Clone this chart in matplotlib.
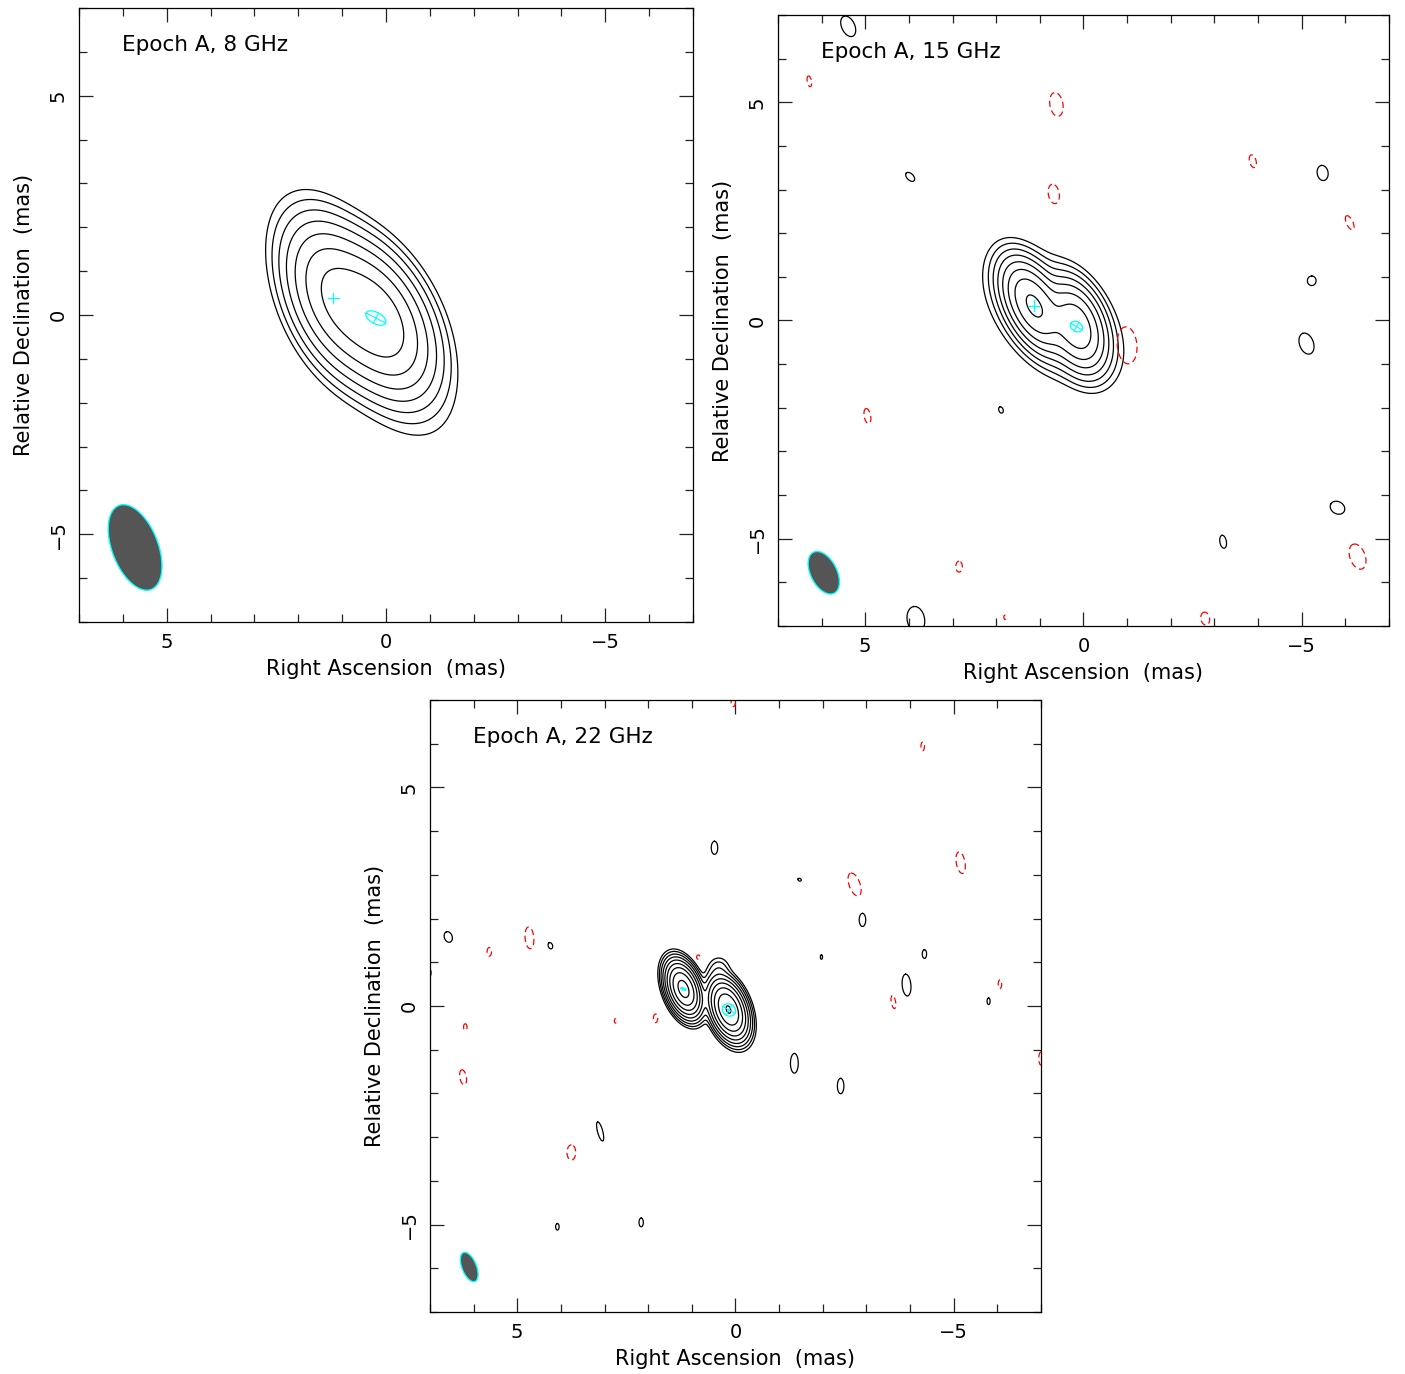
import numpy as np
import matplotlib
matplotlib.use("Agg")
from matplotlib import pyplot as plt
from matplotlib.ticker import MultipleLocator

# ---- model components (flux, RA offset, Dec offset, FWHM maj, FWHM min, PA) in mas ----
# 8 GHz
c8_flux = [1.0, 0.6, 0.05]
c8_ra = [0.2, 1.15, 0.5]
c8_dec = [-0.1, 0.4, -0.1]
c8_maj = [2.0, 2.0, 3.5]
c8_min = [1.15, 1.1, 1.4]
c8_pa = [28, 22, 32]

# 15 GHz
c15_flux = [1.0, 0.75, 0.05]
c15_ra = [1.14, 0.16, 0.7]
c15_dec = [0.34, -0.14, 0.1]
c15_maj = [1.2, 1.15, 2.2]
c15_min = [0.62, 0.66, 1.3]
c15_pa = [27, 20, 45]

# 22 GHz
c22_flux = [1.0, 0.8, 0.008]
c22_ra = [1.19, 0.16, 0.38]
c22_dec = [0.39, -0.08, 0.85]
c22_maj = [0.66, 0.72, 0.4]
c22_min = [0.36, 0.4, 0.35]
c22_pa = [20, 20, 0]

# lowest contour (fraction of peak) and number of contours
lev8 = [0.008, 7]
lev15 = [0.0068, 8]
lev22 = [0.003, 9]

# restoring beams: RA, Dec, maj, min, PA
beam8 = [5.72, -5.3, 2.05, 1.05, 21]
beam15 = [5.95, -5.78, 1.05, 0.6, 27]
beam22 = [6.1, -5.97, 0.71, 0.33, 22]

# model-fit components drawn in cyan
# points (plus marks): RA, Dec
pts8 = [[1.2, 0.39]]
pts15 = [[1.14, 0.34]]
pts22 = []
# ellipses: RA, Dec, maj, min, PA
ell8 = [[0.23, -0.07, 0.5, 0.26, 62]]
ell15 = [[0.16, -0.14, 0.3, 0.22, 60]]
ell22 = [[1.19, 0.39, 0.12, 0.04, 70], [0.15, -0.09, 0.32, 0.27, 60]]

# isolated noise islands: RA, Dec, maj, min, PA
pos15 = [[5.39, 6.74, 0.5, 0.3, 25], [3.97, 3.29, 0.25, 0.15, 45],
         [-5.48, 3.38, 0.35, 0.25, 10], [-5.23, 0.91, 0.22, 0.2, 0],
         [-5.11, -0.53, 0.5, 0.32, 20], [1.89, -2.05, 0.15, 0.1, 20],
         [-5.82, -4.29, 0.35, 0.28, 60], [-3.2, -5.07, 0.3, 0.15, 10],
         [3.84, -6.85, 0.6, 0.4, 10]]
neg15 = [[6.28, 5.48, 0.25, 0.1, 10], [0.62, 4.95, 0.55, 0.3, 10],
         [0.68, 2.9, 0.45, 0.25, 10], [-3.88, 3.65, 0.3, 0.15, 15],
         [-6.1, 2.24, 0.35, 0.15, 25], [-1.0, -0.57, 0.85, 0.45, 5],
         [4.95, -2.19, 0.35, 0.15, 10], [2.85, -5.64, 0.25, 0.15, 0],
         [1.8, -6.8, 0.1, 0.05, 0], [-2.79, -6.83, 0.3, 0.2, 10],
         [-6.28, -5.41, 0.6, 0.35, 20]]
pos22 = [[0.48, 3.62, 0.3, 0.15, 0], [-1.47, 2.89, 0.08, 0.06, 60],
         [-2.91, 1.97, 0.3, 0.15, 0], [-1.97, 1.12, 0.1, 0.05, 0],
         [-4.33, 1.19, 0.2, 0.1, 0], [-3.92, 0.48, 0.5, 0.2, 5],
         [-5.8, 0.11, 0.15, 0.07, 0], [6.58, 1.58, 0.25, 0.18, 20],
         [4.24, 1.38, 0.15, 0.1, 20], [7.05, 0.76, 0.25, 0.15, 0],
         [-1.35, -1.31, 0.45, 0.18, 0], [-2.41, -1.83, 0.35, 0.15, 0],
         [3.1, -2.87, 0.45, 0.12, 15], [4.08, -5.05, 0.15, 0.08, 0],
         [2.16, -4.95, 0.2, 0.1, 0]]
neg22 = [[0.05, 6.95, 0.2, 0.1, 0], [-4.29, 5.94, 0.2, 0.08, 0],
         [-2.73, 2.78, 0.55, 0.25, 20], [-5.16, 3.28, 0.5, 0.2, 10],
         [4.72, 1.56, 0.5, 0.2, 5], [5.64, 1.24, 0.2, 0.1, 0],
         [0.85, 1.12, 0.1, 0.08, 0], [-3.62, 0.09, 0.3, 0.1, 10],
         [-6.06, 0.5, 0.2, 0.08, 0], [-7.0, -1.2, 0.3, 0.1, 0],
         [6.19, -0.48, 0.15, 0.08, 0], [2.75, -0.34, 0.1, 0.05, 0],
         [1.83, -0.28, 0.2, 0.1, 0], [6.24, -1.63, 0.35, 0.15, 10],
         [3.76, -3.35, 0.35, 0.2, 0]]

titles = ["Epoch A, 8 GHz", "Epoch A, 15 GHz", "Epoch A, 22 GHz"]

CYAN = "#00ffff"


def ellipse_xy(ra, dec, maj, mn, pa, n=200):
    # PA measured east of north, RA axis points east
    t = np.linspace(0, 2 * np.pi, n)
    p = np.radians(pa)
    u = np.array([np.sin(p), np.cos(p)])
    v = np.array([np.cos(p), -np.sin(p)])
    x = ra + maj / 2 * np.cos(t) * u[0] + mn / 2 * np.sin(t) * v[0]
    y = dec + maj / 2 * np.cos(t) * u[1] + mn / 2 * np.sin(t) * v[1]
    return x, y


def model_image(X, Y, flux, ra, dec, maj, mn, pa):
    img = np.zeros_like(X)
    for f, x0, y0, a, b, p in zip(flux, ra, dec, maj, mn, pa):
        p = np.radians(p)
        dx = X - x0
        dy = Y - y0
        s = dx * np.sin(p) + dy * np.cos(p)
        t = dx * np.cos(p) - dy * np.sin(p)
        img += f * np.exp(-4 * np.log(2) * (s ** 2 / a ** 2 + t ** 2 / b ** 2))
    return img / img.max()


def draw_panel(ax, comps, lev, beam, pts, ells, pos, neg, title):
    g = np.linspace(-7.5, 7.5, 751)
    X, Y = np.meshgrid(g, g)
    img = model_image(X, Y, *comps)
    levels = lev[0] * 2.0 ** np.arange(lev[1])
    ax.contour(X, Y, img, levels=levels, colors="black", linewidths=0.9)

    for e in pos:
        x, y = ellipse_xy(*e)
        ax.plot(x, y, color="black", lw=0.9)
    for e in neg:
        x, y = ellipse_xy(*e)
        ax.plot(x, y, color="red", lw=0.9, linestyle=(0, (5, 3)))

    # restoring beam
    bx, by = ellipse_xy(*beam)
    ax.fill(bx, by, facecolor="#555555", edgecolor=CYAN, lw=1.0)

    # model-fit components
    for x0, y0 in pts:
        ax.plot([x0 - 0.12, x0 + 0.12], [y0, y0], color=CYAN, lw=0.9)
        ax.plot([x0, x0], [y0 - 0.12, y0 + 0.12], color=CYAN, lw=0.9)
    for ra, dec, a, b, p in ells:
        x, y = ellipse_xy(ra, dec, a, b, p)
        ax.plot(x, y, color=CYAN, lw=0.9)
        r = np.radians(p)
        ax.plot([ra - a / 2 * np.sin(r), ra + a / 2 * np.sin(r)],
                [dec - a / 2 * np.cos(r), dec + a / 2 * np.cos(r)], color=CYAN, lw=0.8)
        ax.plot([ra - b / 2 * np.cos(r), ra + b / 2 * np.cos(r)],
                [dec + b / 2 * np.sin(r), dec - b / 2 * np.sin(r)], color=CYAN, lw=0.8)

    ax.set_xlim(7, -7)
    ax.set_ylim(-7, 7)
    ax.set_aspect("auto")
    ax.xaxis.set_major_locator(MultipleLocator(5))
    ax.xaxis.set_minor_locator(MultipleLocator(1))
    ax.yaxis.set_major_locator(MultipleLocator(5))
    ax.yaxis.set_minor_locator(MultipleLocator(1))
    ax.tick_params(which="both", direction="in", top=True, right=True,
                   labelsize=14, width=0.9, color="#222222")
    ax.tick_params(which="major", length=10, pad=8)
    ax.tick_params(which="minor", length=6)
    for lab in ax.get_yticklabels():
        lab.set_rotation(90)
        lab.set_va("center")
    for sp in ax.spines.values():
        sp.set_linewidth(0.9)
    ax.set_xlabel("Right Ascension  (mas)", fontsize=15, labelpad=5)
    ax.set_ylabel("Relative Declination  (mas)", fontsize=15, labelpad=11)
    ax.text(0.07, 0.94, title, transform=ax.transAxes, fontsize=15.5,
            ha="left", va="center")


fig = plt.figure(figsize=(14.05, 13.74), dpi=100)
ax1 = fig.add_axes([0.0562, 0.5473, 0.437, 0.4469])
ax2 = fig.add_axes([0.5537, 0.5444, 0.4349, 0.4447])
ax3 = fig.add_axes([0.306, 0.0451, 0.4349, 0.4454])

draw_panel(ax1, [c8_flux, c8_ra, c8_dec, c8_maj, c8_min, c8_pa], lev8, beam8,
           pts8, ell8, [], [], titles[0])
draw_panel(ax2, [c15_flux, c15_ra, c15_dec, c15_maj, c15_min, c15_pa], lev15, beam15,
           pts15, ell15, pos15, neg15, titles[1])
draw_panel(ax3, [c22_flux, c22_ra, c22_dec, c22_maj, c22_min, c22_pa], lev22, beam22,
           pts22, ell22, pos22, neg22, titles[2])

fig.savefig("out.png", dpi=100)
